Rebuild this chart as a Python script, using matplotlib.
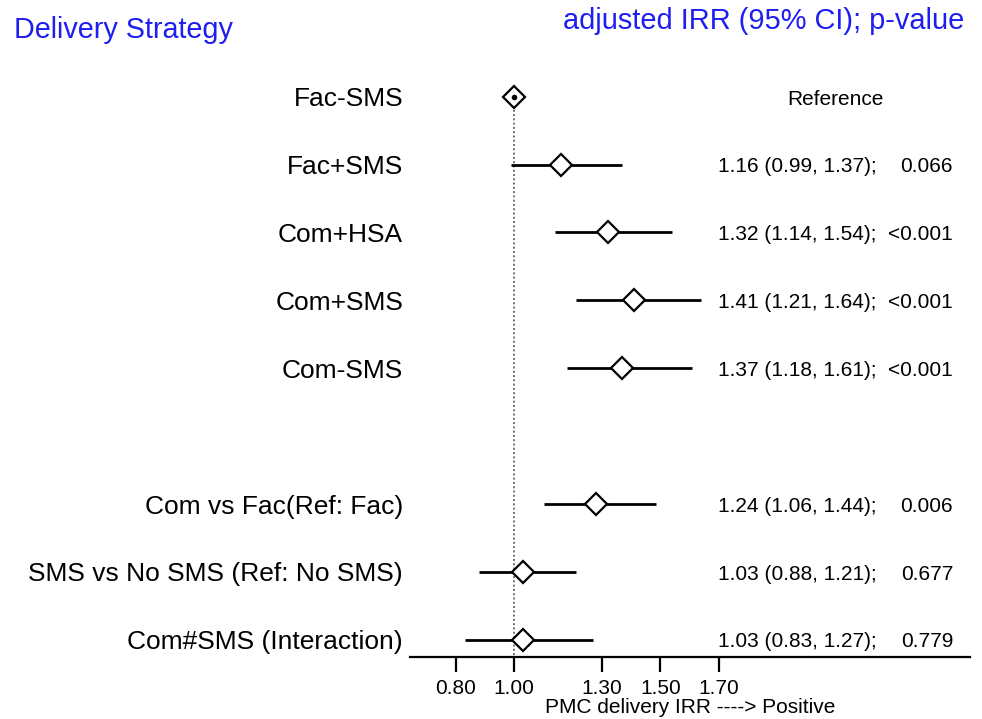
import matplotlib
matplotlib.use("Agg")
import numpy as np
from matplotlib import pyplot as plt

plt.rcParams["font.family"] = ["Liberation Sans", "DejaVu Sans"]

# rows (top to bottom); slot 6 is left empty as a spacer
labels = ["Fac-SMS", "Fac+SMS", "Com+HSA", "Com+SMS", "Com-SMS",
          "Com vs Fac(Ref: Fac)", "SMS vs No SMS (Ref: No SMS)", "Com#SMS (Interaction)"]
rows = [1, 2, 3, 4, 5, 7, 8, 9]

# plotted point estimates and CI ends (as drawn)
irr = [1.00, 1.16, 1.32, 1.41, 1.37, 1.28, 1.03, 1.03]
ci_lo = [np.nan, 0.99, 1.14, 1.21, 1.18, 1.10, 0.88, 0.83]
ci_hi = [np.nan, 1.37, 1.54, 1.64, 1.61, 1.485, 1.21, 1.27]

# printed estimates
est_text = ["Reference", "1.16 (0.99, 1.37);", "1.32 (1.14, 1.54);", "1.41 (1.21, 1.64);",
            "1.37 (1.18, 1.61);", "1.24 (1.06, 1.44);", "1.03 (0.88, 1.21);", "1.03 (0.83, 1.27);"]
p_text = ["", "0.066", "<0.001", "<0.001", "<0.001", "0.006", "0.677", "0.779"]

xticks = [0.80, 1.00, 1.30, 1.50, 1.70]

W, H = 982, 719
fig = plt.figure(figsize=(W / 100, H / 100), dpi=100)
ax = fig.add_axes([410 / W, 1 - 657 / H, (970 - 410) / W, (657 - 60) / H])

blue = "#1e1ef0"

# reference line at 1
ax.plot([1.0, 1.0], [rows[0], 9.26], color="#707070", lw=1.4,
        linestyle=(0, (1, 1.2)), zorder=1)

for i, r in enumerate(rows):
    if not np.isnan(ci_lo[i]):
        ax.plot([ci_lo[i], ci_hi[i]], [r, r], color="black", lw=2.0,
                solid_capstyle="butt", zorder=2)
    ax.plot(irr[i], r, marker="D", ms=11, mfc="white", mec="black",
            mew=1.6, zorder=3)
ax.plot(irr[0], rows[0], marker="o", ms=3, color="black", zorder=4)

trans = ax.get_yaxis_transform()
for i, r in enumerate(rows):
    if i == 0:
        ax.text((835 - 410) / 560, r + 0.04, est_text[i], transform=trans,
                ha="center", va="center", fontsize=15)
    else:
        ax.text((718 - 410) / 560, r + 0.03, est_text[i], transform=trans,
                ha="left", va="center", fontsize=15)
        ax.text((953 - 410) / 560, r + 0.03, p_text[i], transform=trans,
                ha="right", va="center", fontsize=15)

ax.set_xlim(1.0 + (410 - 514.3) / 292, 1.0 + (970 - 514.3) / 292)
ax.set_ylim(9.252, 0.4595)

ax.set_yticks(rows)
ax.set_yticklabels(labels, fontsize=19)
ax.tick_params(axis="y", length=0, pad=5)

ax.set_xticks(xticks)
ax.set_xticklabels([f"{t:.2f}" for t in xticks], fontsize=15)
ax.tick_params(axis="x", length=11, width=1.6, pad=5)
ax.set_xlabel("PMC delivery IRR ----> Positive", fontsize=15, labelpad=0)

for s in ["top", "right", "left"]:
    ax.spines[s].set_visible(False)
ax.spines["bottom"].set_linewidth(1.6)

fig.text(14 / W, 1 - 30 / H, "Delivery Strategy", color=blue, fontsize=20.7,
         ha="left", va="center")
fig.text(964 / W, 1 - 21 / H, "adjusted IRR (95% CI); p-value", color=blue,
         fontsize=20.9, ha="right", va="center")

fig.savefig("out.png", dpi=100)
